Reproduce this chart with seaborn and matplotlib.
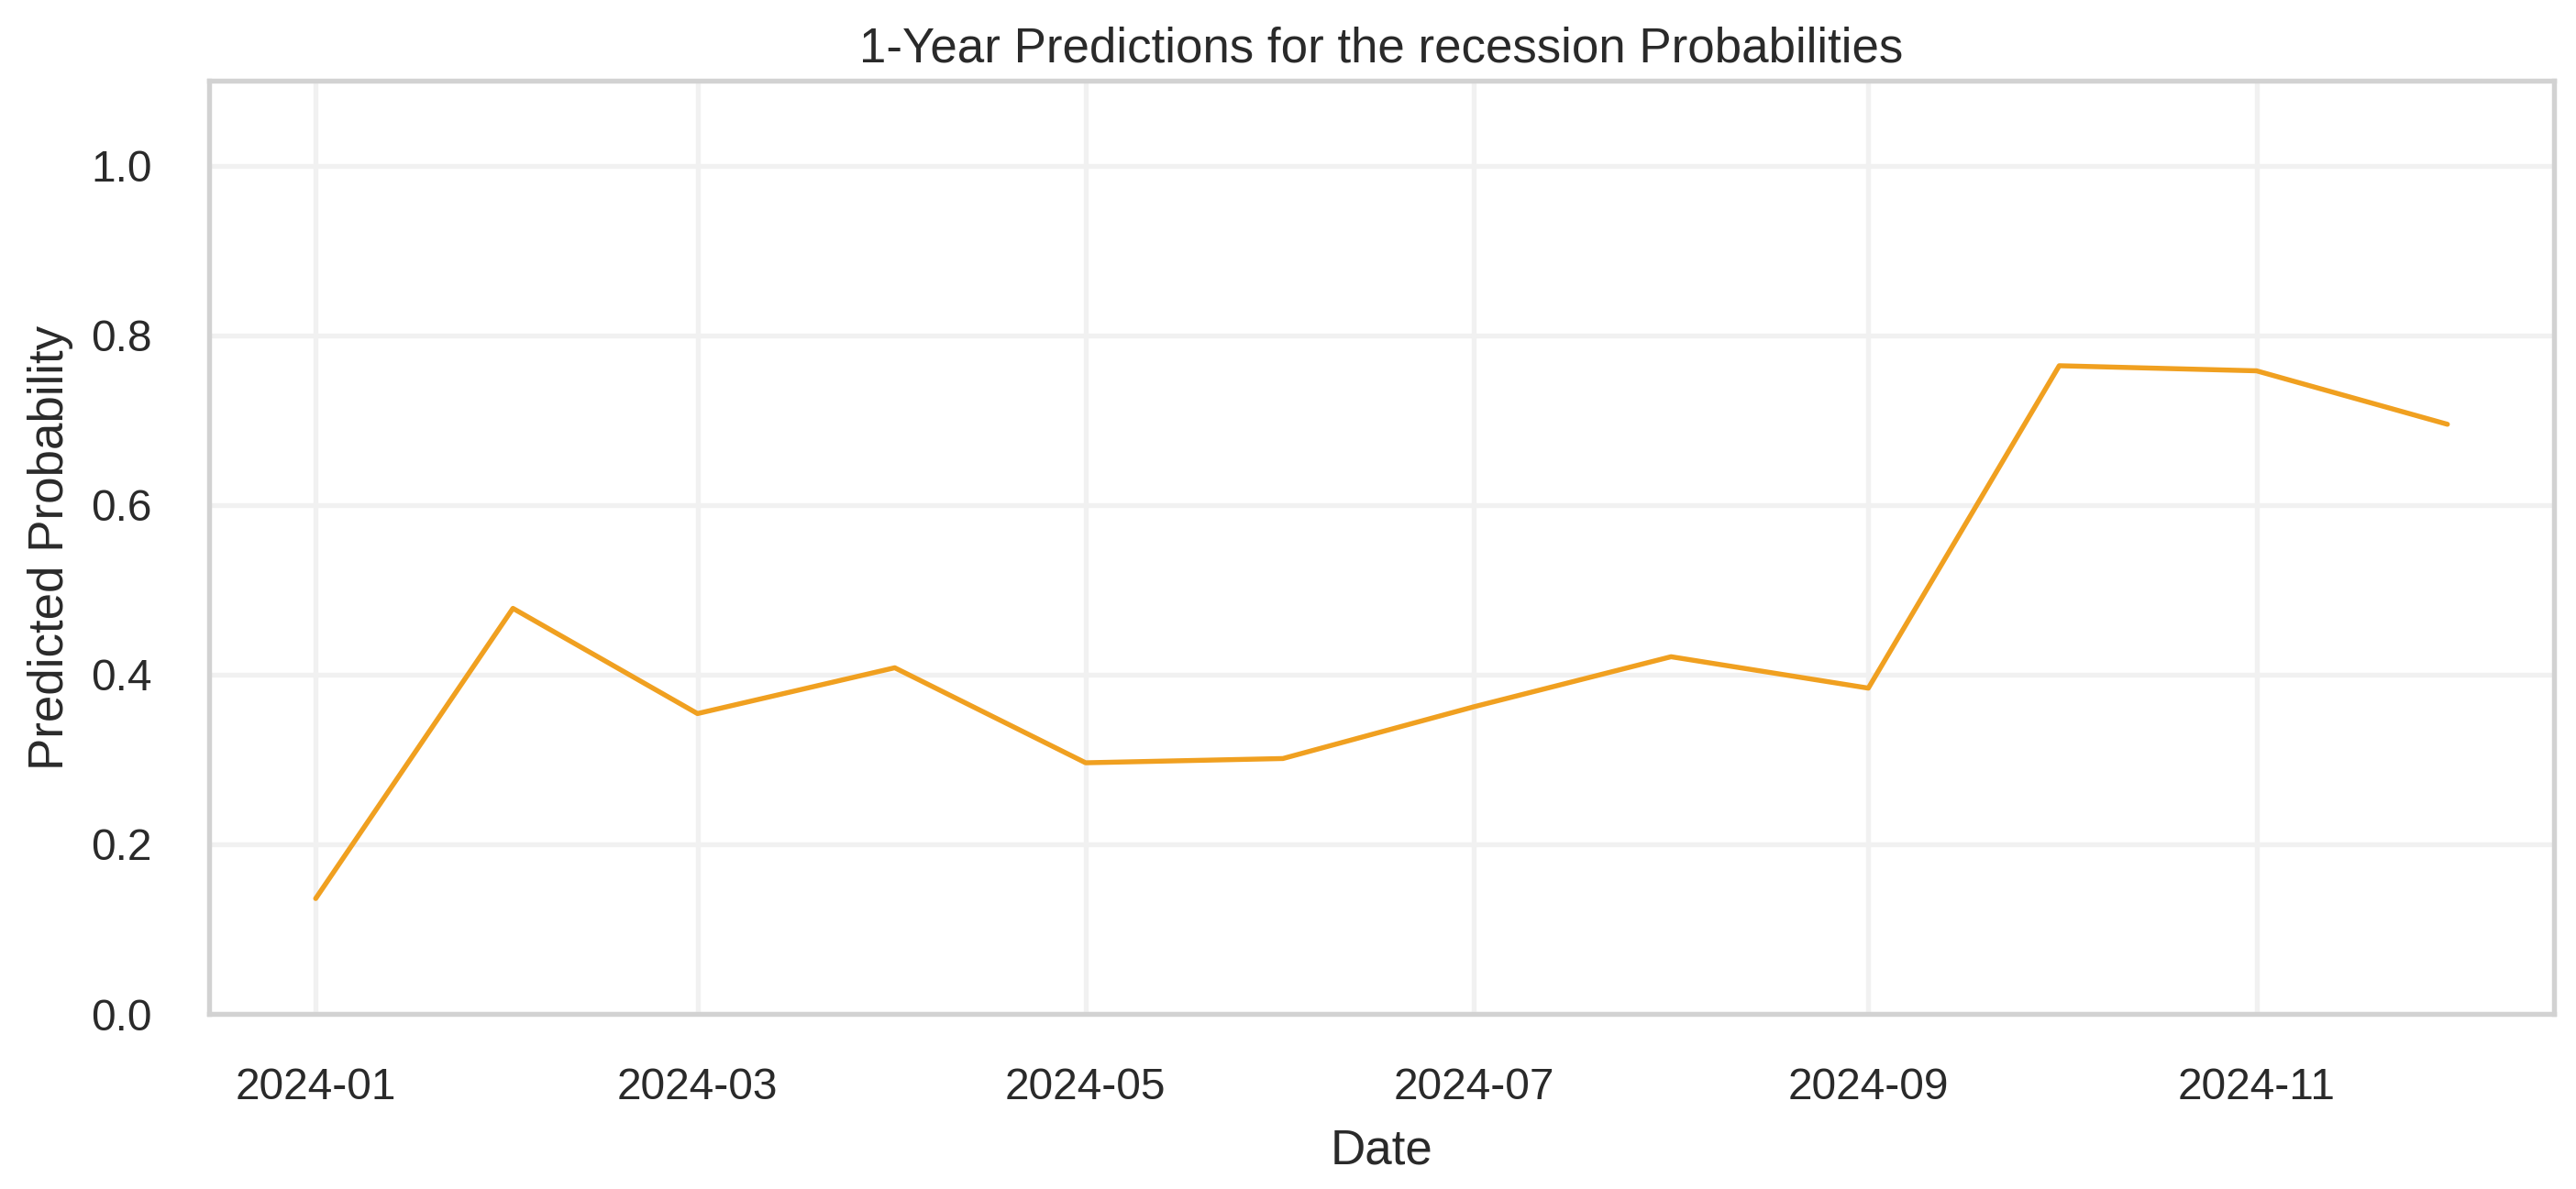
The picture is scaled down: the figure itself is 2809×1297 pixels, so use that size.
import matplotlib
matplotlib.use("Agg")
import matplotlib.pyplot as plt
import seaborn as sns
import pandas as pd

# Data
dates = pd.date_range("2024-01-01", periods=12, freq="MS")
probabilities = [0.136, 0.478, 0.354, 0.408, 0.296, 0.301,
                 0.362, 0.421, 0.384, 0.764, 0.758, 0.695]
title_text = "1-Year Predictions for the recession Probabilities"
x_label = "Date"
y_label = "Predicted Probability"

df = pd.DataFrame({"Date": dates, "Predicted Probability": probabilities})

sns.set_theme(style="whitegrid")
plt.rcParams["font.family"] = ["Liberation Sans", "DejaVu Sans"]
text_color = "#2a2a2a"

DPI = 300
fig = plt.figure(figsize=(2809 / DPI, 1297 / DPI), dpi=DPI)
ax = fig.add_axes([228 / 2809, 191 / 1297, (2785 - 228) / 2809, (1106 - 88) / 1297])

sns.lineplot(data=df, x="Date", y="Predicted Probability", ax=ax,
             color="#F0A020", linewidth=1.3)

ax.set_ylim(0, 1.1)
ax.set_yticks([0.0, 0.2, 0.4, 0.6, 0.8, 1.0])

ax.grid(True, color="#f1f1f1", linewidth=1.3)
for s in ax.spines.values():
    s.set_color("#d2d2d2")
    s.set_linewidth(1.3)

ax.tick_params(axis="x", labelsize=11.5, pad=14, colors=text_color, length=0)
ax.tick_params(axis="y", labelsize=11.5, pad=15, colors=text_color, length=0)
ax.set_xlabel(x_label, fontsize=12.7, color=text_color, labelpad=5)
ax.set_ylabel(y_label, fontsize=12.7, color=text_color, labelpad=4.5)
ax.set_title(title_text, fontsize=12.7, color=text_color, pad=5)

fig.savefig("out.png", dpi=DPI)
